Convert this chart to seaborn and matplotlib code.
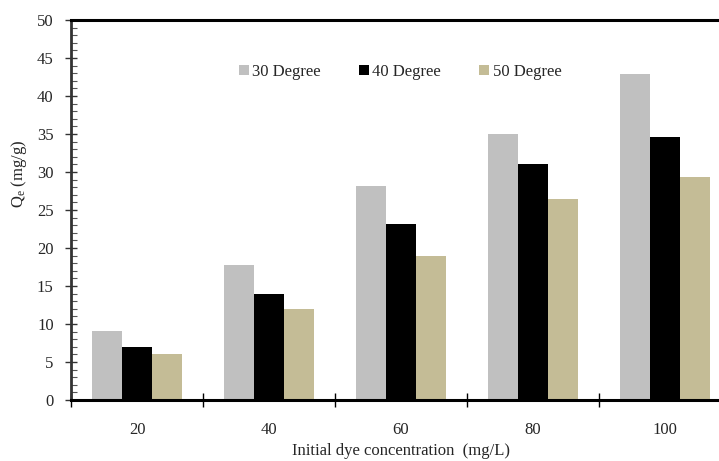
import matplotlib
matplotlib.use("Agg")
import matplotlib.pyplot as plt
from matplotlib.ticker import MultipleLocator, FixedLocator
import seaborn as sns
import pandas as pd

# Adsorption capacity by initial dye concentration and temperature
concentrations = ["20", "40", "60", "80", "100"]
temperatures = ["30 Degree", "40 Degree", "50 Degree"]
qe_30 = [9.1, 17.7, 28.1, 35.0, 42.9]
qe_40 = [7.0, 14.0, 23.1, 31.0, 34.6]
qe_50 = [6.0, 12.0, 19.0, 26.4, 29.4]
colors = ["#C0C0C0", "#000000", "#C4BC96"]

rows = []
for temp, vals in zip(temperatures, [qe_30, qe_40, qe_50]):
    for conc, v in zip(concentrations, vals):
        rows.append({"conc": conc, "temp": temp, "qe": v})
df = pd.DataFrame(rows)

sns.set_theme(style="white")
plt.rcParams["font.family"] = ["Liberation Serif", "DejaVu Serif"]
plt.rcParams["mathtext.fontset"] = "custom"
plt.rcParams["mathtext.rm"] = "Liberation Serif"
plt.rcParams["mathtext.it"] = "Liberation Serif:italic"

fig = plt.figure(figsize=(7.19, 4.61), dpi=100)
ax = fig.add_axes([71 / 719, 61 / 461, 660 / 719, 380 / 461])

sns.barplot(data=df, x="conc", y="qe", hue="temp", order=concentrations,
            hue_order=temperatures, palette=colors, width=0.68,
            saturation=1, edgecolor="none", linewidth=0, ax=ax)

ax.set_xlim(-0.5, 4.5)
ax.set_ylim(0, 50)

# spines
for side in ["top", "bottom"]:
    ax.spines[side].set_color("black")
    ax.spines[side].set_linewidth(2.2)
ax.spines["left"].set_color("#333333")
ax.spines["left"].set_linewidth(2)
ax.spines["right"].set_visible(False)

# y ticks: major crossing, minor inside
ax.yaxis.set_major_locator(MultipleLocator(5))
ax.yaxis.set_minor_locator(MultipleLocator(1))
ax.tick_params(axis="y", which="major", direction="inout", length=9, width=1,
               color="#333333", labelsize=12, pad=8, left=True)
ax.tick_params(axis="y", which="minor", direction="in", length=4, width=0.8,
               color="#555555", left=True)

# x ticks: labels at category centres, marks at category boundaries
ax.xaxis.set_minor_locator(FixedLocator([-0.5, 0.5, 1.5, 2.5, 3.5, 4.5]))
ax.tick_params(axis="x", which="major", length=0, labelsize=12, pad=16)
ax.tick_params(axis="x", which="minor", direction="inout", length=10, width=1,
               color="black", bottom=True)

ax.set_xlabel("Initial dye concentration  (mg/L)", fontsize=12)
ax.xaxis.set_label_coords(0.5, -0.112)
ax.set_ylabel("Q$_{\\mathrm{e}}$ (mg/g)", fontsize=12)
ax.yaxis.set_label_coords(-0.064, 0.595)

ax.legend(loc="center left", bbox_to_anchor=(0.254, 0.863), ncol=3,
          frameon=False, fontsize=12, handlelength=0.6, handleheight=0.6,
          handletextpad=0.2, columnspacing=2.3, borderpad=0, borderaxespad=0)

fig.savefig("out.png", dpi=100)
